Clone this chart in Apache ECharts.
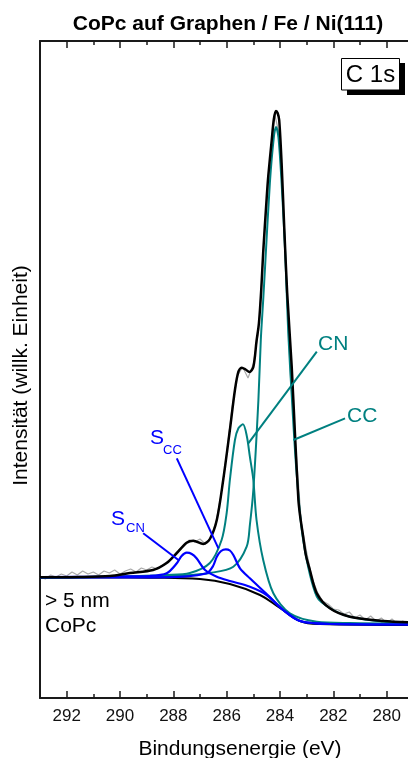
<!DOCTYPE html>
<html><head><meta charset="utf-8">
<script src="https://cdn.jsdelivr.net/npm/echarts@6/dist/echarts.min.js"></script>
<style>html,body{margin:0;padding:0;background:#fff}#c{width:408px;height:758px}</style>
</head><body><div id="c"></div>
<script>
// Binding energy (eV) vs. intensity (arb. units)
const rawData = [[293.0,121],[292.8,119],[292.6,123],[292.4,121],[292.2,124],[292.0,122],[291.8,126],[291.6,123],[291.4,127],[291.2,124],[291.0,126],[290.8,123],[290.6,127],[290.4,125],[290.2,128],[290.0,124],[289.8,127],[289.6,129],[289.4,126],[289.2,130],[289.0,128],[288.8,131],[288.6,129],[288.4,133],[288.2,137],[288.0,141],[287.8,148],[287.6,153],[287.4,158],[287.2,156],[287.0,159],[286.8,154],[286.6,160],[286.4,176],[286.2,205],[286.0,245],[285.8,290],[285.6,322],[285.4,331],[285.2,320],[285.0,334],[284.8,368],[284.6,455],[284.4,530],[284.2,584],[284.0,560],[283.8,440],[283.6,318],[283.4,248],[283.2,175],[283.0,146],[282.8,120],[282.6,106],[282.4,97],[282.2,94],[282.0,89],[281.8,88],[281.6,84],[281.4,86],[281.2,80],[281.0,83],[280.8,78],[280.6,82],[280.4,77],[280.2,80],[280.0,75],[279.8,79],[279.6,74],[279.4,77],[279.2,75]];

const envelope = [[293.0,120.7],[291.5,121],[290.38,122],[289.63,125],[288.76,128],[288.25,135],[287.87,145],[287.5,155.3],[287.25,157.3],[286.88,154],[286.63,159],[286.37,178],[286.13,218],[285.88,268],[285.69,308],[285.56,326.3],[285.44,330.3],[285.29,328.5],[285.15,326],[285.0,331],[284.88,357],[284.79,375],[284.7,410],[284.63,446],[284.5,500],[284.44,522],[284.31,558],[284.23,579],[284.15,587],[284.09,585],[284.03,578],[283.94,535],[283.84,470],[283.73,405],[283.56,331],[283.44,265],[283.31,198],[283.25,183],[283.13,161],[283.03,143],[282.88,128],[282.62,104.7],[282.13,89.7],[281.38,81.3],[280.13,77],[279.0,75.5]];

const background = [[293.0,120.7],[290.0,120.5],[288.88,120.3],[287.0,119],[285.88,114],[284.75,103],[284.0,90],[283.25,77],[282.5,74],[279.0,73]];

const compCC = [[293.0,120],[290.75,121],[288.88,121.5],[287.64,122.5],[286.63,125],[285.75,131.3],[285.25,151.3],[285.13,173],[285.0,208],[284.81,298],[284.72,358],[284.63,398],[284.56,431],[284.38,515],[284.23,561],[284.15,571],[284.06,561],[283.94,515],[283.81,448],[283.69,365],[283.55,298],[283.38,226],[283.13,158],[282.62,101.3],[282.01,88],[281.38,81.3],[280.14,76.5],[279.0,75]];

const compCN = [[293.0,120.5],[290.0,121.5],[288.25,123],[287.38,125],[286.63,135],[286.19,158],[286.0,185],[285.88,218],[285.69,258],[285.56,269.7],[285.39,273.7],[285.24,261.3],[285.13,241.3],[285.0,218],[284.88,178],[284.63,138],[284.25,104.7],[283.63,84.7],[282.62,76.3],[281.38,75],[279.0,74.5]];

const compSCN = [[293.0,121],[290.0,121.5],[288.88,122],[288.25,124.7],[287.87,134.7],[287.69,142],[287.5,145.3],[287.31,144],[287.13,139.7],[286.81,128],[286.37,121.3],[285.88,117],[285.13,111.3],[284.5,103],[283.88,88],[283.25,77],[282.13,74],[279.0,73.5]];

const compSCC = [[293.0,120.5],[288.88,120.7],[287.64,121.3],[286.75,124.7],[286.51,132],[286.37,141.3],[286.21,147],[286.03,148.7],[285.88,147.5],[285.75,143],[285.5,129.7],[285.13,119.7],[284.5,104],[283.88,88],[283.25,77],[282.13,74],[279.0,73.5]];

const xTicks = {min: 278, max: 293, interval: 2};

const TEAL = '#008080', BLUE = '#0000ff', FONT = 'Liberation Sans, Arial, sans-serif';
const chart = echarts.init(document.getElementById('c'), null, {renderer: 'canvas'});

function lineSeries(name, data, color, width, z, smooth) {
  return {name, type: 'line', data, showSymbol: false, symbol: 'none', smooth: smooth,
    lineStyle: {color, width}, z, silent: true, clip: true};
}

const axisCommon = {
  type: 'value', min: xTicks.min, max: xTicks.max, interval: xTicks.interval, inverse: true,
  axisLine: {show: true, onZero: false, lineStyle: {color: '#1a1a1a', width: 2}},
  axisTick: {show: true, inside: true, length: 7, lineStyle: {color: '#1a1a1a', width: 1.5}},
  minorTick: {show: true, splitNumber: 2, length: 4, lineStyle: {color: '#1a1a1a', width: 1.5}},
  splitLine: {show: false}, minorSplitLine: {show: false}
};

const option = {
  animation: false,
  backgroundColor: '#fff',
  title: {text: 'CoPc auf Graphen / Fe / Ni(111)', left: 223, top: 9, textAlign: 'center',
    textStyle: {fontFamily: FONT, fontSize: 21, fontWeight: 'bold', color: '#000'}},
  grid: {left: 40, top: 41, width: 400, height: 657, containLabel: false, outerBoundsMode: 'none'},
  xAxis: [
    Object.assign({}, axisCommon, {position: 'bottom',
      name: 'Bindungsenergie (eV)', nameLocation: 'middle', nameGap: 41,
      nameTextStyle: {fontFamily: FONT, fontSize: 21, color: '#000'},
      axisLabel: {show: true, margin: 10, fontFamily: FONT, fontSize: 17, color: '#111',
        formatter: v => (v === 278 ? '' : String(v))}}),
    Object.assign({}, axisCommon, {position: 'top', axisLabel: {show: false}})
  ],
  yAxis: {type: 'value', min: 0, max: 657,
    name: 'Intensität (willk. Einheit)', nameLocation: 'middle', nameGap: 8, nameRotate: 90,
    nameTextStyle: {fontFamily: FONT, fontSize: 21, color: '#000', padding: [0, 12, 0, 0]},
    axisLine: {show: true, lineStyle: {color: '#1a1a1a', width: 2}},
    axisTick: {show: false}, axisLabel: {show: false}, splitLine: {show: false}},
  series: [
    lineSeries('raw', rawData, '#aaaaaa', 1.2, 1, false),
    lineSeries('background', background, '#000', 2, 2, 0.4),
    lineSeries('CC', compCC, TEAL, 2, 3, 0.3),
    lineSeries('CN', compCN, TEAL, 2, 3, 0.3),
    lineSeries('SCN', compSCN, BLUE, 2.2, 4, 0.3),
    lineSeries('SCC', compSCC, BLUE, 2.2, 4, 0.3),
    lineSeries('fit', envelope, '#000', 2.5, 5, 0.3)
  ]
};
chart.setOption(option);

// Leader lines anchored in data coordinates
const leaders = [
  {from: [282.62, 346.3], to: [285.19, 254.7], color: TEAL},
  {from: [281.56, 279.7], to: [283.5, 258], color: TEAL},
  {from: [287.87, 239.7], to: [286.31, 149.7], color: BLUE},
  {from: [289.13, 164.7], to: [287.81, 138], color: BLUE}
];
const px = p => chart.convertToPixel({xAxisIndex: 0, yAxisIndex: 0}, p);
const graphics = leaders.map(l => {
  const a = px(l.from), b = px(l.to);
  return {type: 'line', z: 10, shape: {x1: a[0], y1: a[1], x2: b[0], y2: b[1]},
    style: {stroke: l.color, lineWidth: 2}};
});
function txt(x, y, text, size, color, extra) {
  return Object.assign({type: 'text', x, y, z: 12,
    style: {text, fontFamily: FONT, fontSize: size, fill: color, textVerticalAlign: 'middle'}}, extra || {});
}
graphics.push(
  txt(318, 344, 'CN', 21, TEAL),
  txt(347, 416, 'CC', 21, TEAL),
  txt(150, 438, 'S', 21, BLUE),
  txt(163, 450, 'CC', 13, BLUE),
  txt(111, 519, 'S', 21, BLUE),
  txt(126, 528, 'CN', 13, BLUE),
  txt(45, 601, '> 5 nm', 21, '#000'),
  txt(45, 626, 'CoPc', 21, '#000'),
  {type: 'rect', z: 11, shape: {x: 347, y: 63, width: 58, height: 32}, style: {fill: '#000'}},
  {type: 'rect', z: 12, shape: {x: 341.5, y: 58.5, width: 58, height: 31.5}, style: {fill: '#fff', stroke: '#000', lineWidth: 1}},
  txt(370.5, 75, 'C 1s', 24, '#000', {z: 13, style: {text: 'C 1s', fontFamily: FONT, fontSize: 24, fill: '#000', textAlign: 'center', textVerticalAlign: 'middle'}})
);
chart.setOption({graphic: graphics});
</script>
</body></html>
